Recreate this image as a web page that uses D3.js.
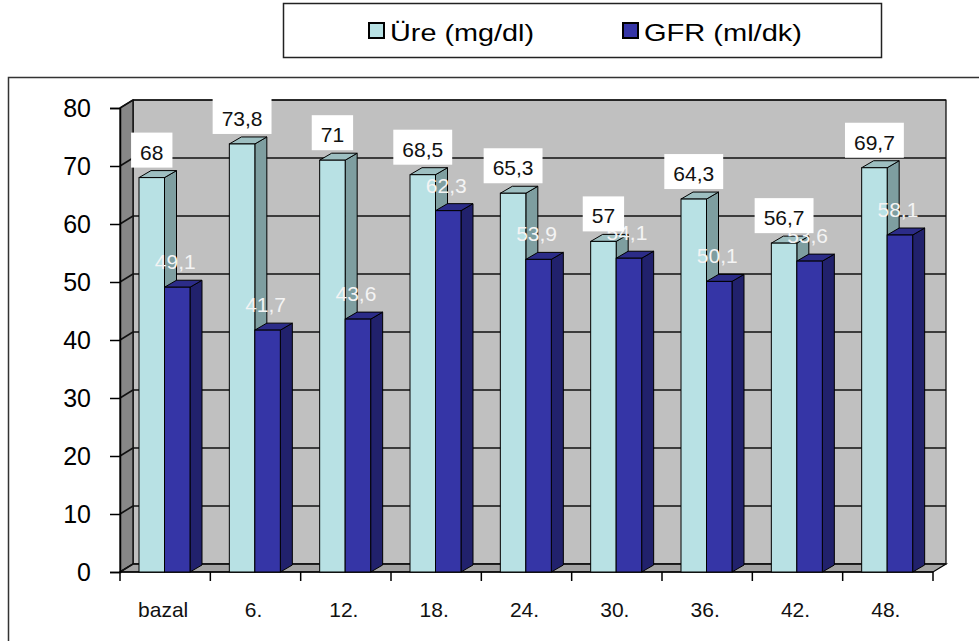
<!DOCTYPE html>
<html>
<head>
<meta charset="utf-8">
<script src="https://cdn.jsdelivr.net/npm/d3@7/dist/d3.min.js"></script>
<style>
  html, body { margin: 0; padding: 0; background: #fff; }
  svg { display: block; font-family: "Liberation Sans", Arial, sans-serif; }
</style>
</head>
<body>
<svg id="chart" width="979" height="641"></svg>
<script>
// Time points (months) and the two measured series
const categories = ["bazal", "6.", "12.", "18.", "24.", "30.", "36.", "42.", "48."];
const ureValues = [68, 73.8, 71, 68.5, 65.3, 57, 64.3, 56.7, 69.7];
const gfrValues = [49.1, 41.7, 43.6, 62.3, 53.9, 54.1, 50.1, 53.6, 58.1];
const seriesNames = ["Üre (mg/dl)", "GFR (ml/dk)"];
const yTicks = [0, 10, 20, 30, 40, 50, 60, 70, 80];

const colors = {
  ure: { front: "#b8e1e4", side: "#7e9ea0", top: "#9dbfc1" },
  gfr: { front: "#3535a6", side: "#21216c", top: "#2c2c88" }
};

const svg = d3.select("#chart");

// Frame around the plot area
svg.append("rect")
  .attr("x", 8.5).attr("y", 77.5).attr("width", 1000).attr("height", 600)
  .attr("fill", "#fff").attr("stroke", "#333").attr("stroke-width", 1.5);

// Scales
const x = d3.scaleBand().domain(categories).range([120, 933]);
const inner = d3.scaleBand().domain(["ure", "gfr"]).range([19, 70]);
const y = d3.scaleLinear().domain([0, 80]).range([572, 108]);

// 3D wall depth
const wdx = 13, wdy = -8;
const x0 = x.range()[0], x1 = x.range()[1];
const yTop = y(80), yBot = y(0);

const walls = svg.append("g");
// back wall
walls.append("polygon")
  .attr("points", [[x0 + wdx, yTop + wdy], [x1 + wdx, yTop + wdy], [x1 + wdx, yBot + wdy], [x0 + wdx, yBot + wdy]].join(" "))
  .attr("fill", "#c0c0c0").attr("stroke", "#000").attr("stroke-width", 1.2);
// side wall
walls.append("polygon")
  .attr("points", [[x0, yTop], [x0 + wdx, yTop + wdy], [x0 + wdx, yBot + wdy], [x0, yBot]].join(" "))
  .attr("fill", "#878787").attr("stroke", "#000").attr("stroke-width", 1.2);
// floor
walls.append("polygon")
  .attr("points", [[x0, yBot], [x1, yBot], [x1 + wdx, yBot + wdy], [x0 + wdx, yBot + wdy]].join(" "))
  .attr("fill", "#a4a4a4").attr("stroke", "#000").attr("stroke-width", 1.2);

// Gridlines on back wall and side wall
const grid = svg.append("g").attr("stroke", "#111").attr("stroke-width", 1.6).attr("fill", "none");
yTicks.forEach(v => {
  grid.append("line")
    .attr("x1", x0 + wdx).attr("x2", x1 + wdx)
    .attr("y1", y(v) + wdy).attr("y2", y(v) + wdy);
  grid.append("line")
    .attr("x1", x0).attr("x2", x0 + wdx)
    .attr("y1", y(v)).attr("y2", y(v) + wdy);
});

// Y axis
const yAxis = svg.append("g")
  .attr("transform", `translate(${x0},0)`)
  .call(d3.axisLeft(y).tickValues(yTicks).tickSize(10).tickPadding(19).tickFormat(d3.format("d")));
yAxis.select(".domain").attr("stroke", "#000").attr("stroke-width", 1.5);
yAxis.selectAll(".tick line").attr("stroke", "#000").attr("stroke-width", 1.5);
yAxis.selectAll(".tick text")
  .attr("font-size", 25).attr("fill", "#000")
  .attr("font-family", "'Liberation Sans', Arial, sans-serif");

// X axis: baseline, boundary ticks and category labels
const xAxis = svg.append("g").attr("transform", `translate(0,${yBot})`);
xAxis.append("line").attr("x1", x0).attr("x2", x1).attr("y1", 0).attr("y2", 0)
  .attr("stroke", "#000").attr("stroke-width", 1.5);
const bounds = categories.map(c => x(c)).concat([x1]);
xAxis.selectAll("line.bt").data(bounds).join("line").attr("class", "bt")
  .attr("x1", d => d).attr("x2", d => d).attr("y1", 0).attr("y2", 9)
  .attr("stroke", "#000").attr("stroke-width", 1.5);
xAxis.selectAll("text").data(categories).join("text")
  .attr("x", d => x(d) + x.bandwidth() / 2 - 2)
  .attr("y", 45)
  .attr("text-anchor", "middle")
  .attr("font-size", 21).attr("fill", "#111")
  .text(d => d);

// 3D bars
const bdx = 12, bdy = -7;
const fmt = v => String(v).replace(".", ",");
const rows = categories.map((c, i) => ({ c, ure: ureValues[i], gfr: gfrValues[i] }));

function drawBar(g, x0b, w, v, col) {
  const top = y(v), bot = y(0);
  g.append("polygon") // side
    .attr("points", [[x0b + w, top], [x0b + w + bdx, top + bdy], [x0b + w + bdx, bot + bdy], [x0b + w, bot]].join(" "))
    .attr("fill", col.side).attr("stroke", "#000").attr("stroke-width", 1);
  g.append("polygon") // top
    .attr("points", [[x0b, top], [x0b + bdx, top + bdy], [x0b + w + bdx, top + bdy], [x0b + w, top]].join(" "))
    .attr("fill", col.top).attr("stroke", "#000").attr("stroke-width", 1);
  g.append("rect") // front
    .attr("x", x0b).attr("y", top).attr("width", w).attr("height", bot - top)
    .attr("fill", col.front).attr("stroke", "#000").attr("stroke-width", 1);
}

const bars = svg.append("g");
rows.forEach(r => {
  const g = bars.append("g");
  drawBar(g, x(r.c) + inner("ure"), inner.bandwidth(), r.ure, colors.ure);
  drawBar(g, x(r.c) + inner("gfr"), inner.bandwidth(), r.gfr, colors.gfr);
});

// GFR value labels (white text)
const gfrLabels = svg.append("g");
rows.forEach(r => {
  gfrLabels.append("text")
    .attr("x", x(r.c) + inner("gfr") + inner.bandwidth() / 2 - 2)
    .attr("y", y(r.gfr) - 18)
    .attr("text-anchor", "middle")
    .attr("font-size", 21).attr("fill", "#f4f4f4")
    .text(fmt(r.gfr));
});

// Üre value labels in white boxes
const ureLabels = svg.append("g");
rows.forEach(r => {
  const cx = x(r.c) + inner("ure") + inner.bandwidth() / 2;
  const g = ureLabels.append("g");
  const rect = g.append("rect").attr("fill", "#fff");
  const t = g.append("text")
    .attr("x", cx).attr("y", y(r.ure) - 18)
    .attr("text-anchor", "middle")
    .attr("font-size", 21).attr("fill", "#111")
    .text(fmt(r.ure));
  const tw = t.node().getComputedTextLength();
  rect.attr("x", cx - tw / 2 - 9).attr("width", tw + 18)
    .attr("y", y(r.ure) - 45).attr("height", 35);
});

// Legend
const legend = svg.append("g");
legend.append("rect")
  .attr("x", 283.5).attr("y", 3.5).attr("width", 598).attr("height", 54)
  .attr("fill", "#fff").attr("stroke", "#222").attr("stroke-width", 1.5);
const legendItems = [
  { name: seriesNames[0], col: colors.ure.front, sx: 369, tx: 390, tl: 144 },
  { name: seriesNames[1], col: colors.gfr.front, sx: 623, tx: 644, tl: 158 }
];
legendItems.forEach(it => {
  legend.append("rect")
    .attr("x", it.sx).attr("y", 23).attr("width", 15).attr("height", 15)
    .attr("fill", it.col).attr("stroke", "#000").attr("stroke-width", 2);
  legend.append("text")
    .attr("x", it.tx).attr("y", 41)
    .attr("font-size", 24).attr("fill", "#000")
    .attr("textLength", it.tl).attr("lengthAdjust", "spacingAndGlyphs")
    .text(it.name);
});
</script>
</body>
</html>
